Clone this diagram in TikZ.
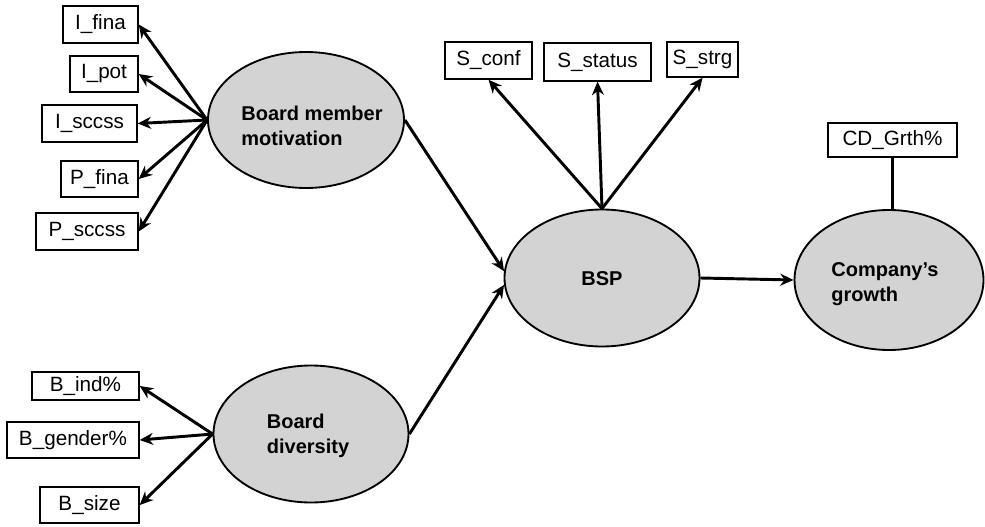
\documentclass[tikz,border=0pt]{standalone}
\usepackage{fontspec}
\setmainfont{Liberation Sans}
\usetikzlibrary{shapes.geometric,arrows.meta}
\definecolor{latentfill}{RGB}{211,211,211}
\tikzset{
  indicator/.style={draw=black, line width=1.1pt, inner sep=0pt, align=center,
    font=\fontsize{15.5}{18}\selectfont},
  latent/.style={ellipse, draw=black, line width=1.4pt, fill=latentfill, inner sep=0pt},
  latentlabel/.style={align=left, inner sep=0pt,
    font=\fontsize{15}{18.75}\selectfont\bfseries},
  link/.style={line width=2.2pt, -{Stealth[length=10pt,width=9pt]}},
  plainlink/.style={line width=2.2pt}
}
\begin{document}
\begin{tikzpicture}[x=0.75pt, y=-0.75pt]
  \useasboundingbox (0,0) rectangle (985,527);

  % latent constructs
  \node[latent, minimum width=147pt, minimum height=102pt] (bmm) at (306,120) {};
  \node[latentlabel] (bmmtxt) at (312,126) {Board member\\motivation};
  \node[latent, minimum width=146.25pt, minimum height=102.75pt] (bd) at (311,434) {};
  \node[latentlabel] (bdtxt) at (308,436) {Board\\diversity};
  \node[latent, minimum width=146.25pt, minimum height=102.75pt] (bsp) at (602,278) {};
  \node[latentlabel] (bsptxt) at (602,279) {BSP};
  \node[latent, minimum width=141.75pt, minimum height=105pt] (cg) at (889,280) {};
  \node[latentlabel] (cgtxt) at (885,284) {Company’s\\growth};

  % indicators of board member motivation
  \node[indicator, minimum width=56.25pt, minimum height=27.75pt] (ifina) at (100.5,24.5) {I\_fina};
  \node[indicator, minimum width=51pt, minimum height=27pt] (ipot) at (104,74) {I\_pot};
  \node[indicator, minimum width=71.25pt, minimum height=27.75pt] (isccss) at (89.5,123.5) {I\_sccss};
  \node[indicator, minimum width=57.75pt, minimum height=27pt] (pfina) at (99.5,179) {P\_fina};
  \node[indicator, minimum width=76.5pt, minimum height=27.75pt] (psccss) at (87,231.5) {P\_sccss};

  % indicators of board diversity
  \node[indicator, minimum width=80.25pt, minimum height=21pt] (bind) at (85.5,386) {B\_ind\%};
  \node[indicator, minimum width=99pt, minimum height=27pt] (bgender) at (73,440) {B\_gender\%};
  \node[indicator, minimum width=74.25pt, minimum height=27pt] (bsize) at (89.5,505) {B\_size};

  % indicators of BSP
  \node[indicator, minimum width=65.25pt, minimum height=27.75pt] (sconf) at (488.5,60.5) {S\_conf};
  \node[indicator, minimum width=80.25pt, minimum height=28.5pt] (sstatus) at (597.5,62) {S\_status};
  \node[indicator, minimum width=53.25pt, minimum height=26.25pt] (sstrg) at (702.5,59.5) {S\_strg};

  % indicator of company growth
  \node[indicator, minimum width=96.75pt, minimum height=25.5pt] (cdg) at (892.5,140) {CD\_Grth\%};

  % measurement arrows
  \foreach \t in {ifina,ipot,isccss,pfina,psccss}
    \draw[link] (bmm.west) -- (\t.east);
  \foreach \t in {bind,bgender,bsize}
    \draw[link] (bd.west) -- (\t.east);
  \foreach \t in {sconf,sstatus,sstrg}
    \draw[link] (bsp.north) -- (\t.south);
  \draw[plainlink] (cdg.south) -- (cdg.south |- cg.north);

  % structural paths
  \draw[link] (bmm.east) -- (bsp.176);
  \draw[link] (bd.east) -- (bsp.184);
  \draw[link] (bsp.east) -- (cg.west);
\end{tikzpicture}
\end{document}
